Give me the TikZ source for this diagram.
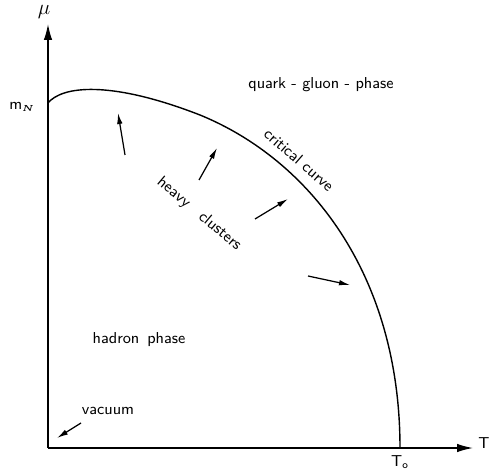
\documentclass[tikz,border=0pt]{standalone}
\usepackage{amsmath,amssymb}
\usepackage{tikz}
\usetikzlibrary{positioning,arrows.meta,calc}
\tikzset{
  axis/.style={-{Latex[length=3.2mm,width=1.7mm]},line width=0.8pt},
  crit/.style={line width=0.8pt},
  drift/.style={-{Latex[length=2.2mm,width=1.1mm]},line width=0.7pt},
  phaselbl/.style={font=\sffamily\small,inner sep=1pt},
  ticklbl/.style={font=\sffamily\small,inner sep=1pt},
}

\begin{document}
\begin{tikzpicture}[x=0.02cm,y=-0.02cm]
  \useasboundingbox (0,0) rectangle (490,469);
  \coordinate (o) at (48,448);
  \coordinate (ytop) at (48,24);
  \coordinate (xend) at (473,448);
  \draw[axis] (o) -- (ytop);
  \draw[axis] (o) -- (xend);
  \node[font=\large] (mu) at (44,12) {$\mu$};
  \node[ticklbl] (T) at (484,443) {T};
  \node[ticklbl] (T0) at (400,462) {T$_{\text{o}}$};
  \node[ticklbl] (mN) at (22,107) {m$_{\boldsymbol{\scriptscriptstyle N}}$};
  % critical curve
  \draw[crit] (48,103) .. controls (62,86) and (110,80) .. (200,115)
    .. controls (310,160) and (400,275) .. (400,448) coordinate (c0);
  \node[phaselbl] (qgp) at (321,85) {quark - gluon - phase};
  \node[phaselbl,rotate=-41] (cc) at (299,160) {critical curve};
  \node[phaselbl,rotate=-40] (hc) at (199,214) {heavy\quad clusters};
  \node[phaselbl] (hp) at (139,340) {hadron\enspace phase};
  \node[phaselbl] (vac) at (108,411) {vacuum};
  % arrows
  \foreach \a/\b [count=\i] in {{125,155}/{118,113},{199,180}/{217,148},
      {255,219}/{288,199},{308,276}/{350,285}} {
    \coordinate (s\i) at (\a);
    \coordinate (e\i) at (\b);
    \draw[drift] (s\i) -- (e\i);
  }
  \coordinate (v0) at (81,423);
  \coordinate (v1) at (57,438);
  \draw[drift] (v0) -- (v1);
\end{tikzpicture}
\end{document}
